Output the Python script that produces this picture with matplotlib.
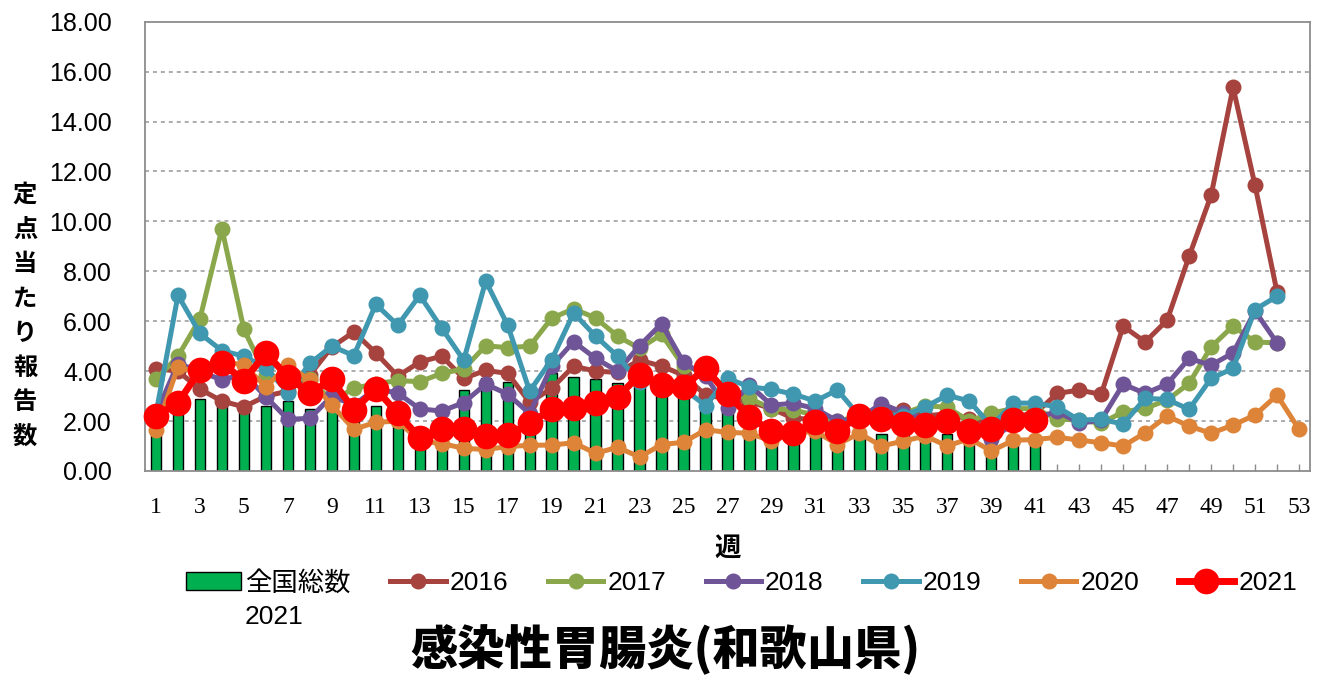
import matplotlib
matplotlib.use("Agg")
import matplotlib.pyplot as plt
import numpy as np

plt.rcParams['font.family'] = ['Liberation Sans', 'Noto Sans CJK JP', 'DejaVu Sans']

weeks = list(range(1, 54))

national_2021 = [1.5, 2.3, 2.9, 2.8, 2.5, 2.6, 2.8, 2.5, 2.6, 2.2,
                 2.6, 1.9, 1.3, 1.5, 3.25, 3.72, 3.58, 3.2, 3.92, 3.76,
                 3.68, 3.54, 3.8, 3.5, 3.3, 3.13, 2.7, 2.1, 1.6, 1.6,
                 1.8, 1.5, 1.5, 1.5, 1.6, 1.5, 1.5, 1.4, 1.3, 1.4, 1.4]

y2016 = [4.1, 4.0, 3.28, 2.8, 2.57, 3.0, 3.2, 3.85, 4.97, 5.57,
         4.73, 3.8, 4.37, 4.6, 3.71, 4.03, 3.91, 2.75, 3.31, 4.2,
         4.0, 3.95, 4.44, 4.2, 3.84, 3.04, 2.9, 2.77, 2.5, 2.11,
         2.07, 1.8, 2.0, 2.3, 2.45, 2.2, 2.3, 2.07, 1.9, 2.2,
         2.3, 3.11, 3.24, 3.07, 5.8, 5.17, 6.04, 8.6, 11.04, 15.37,
         11.44, 7.17]

y2017 = [3.67, 4.6, 6.1, 9.71, 5.67, 3.84, 3.7, 3.7, 2.8, 3.31,
         3.5, 3.62, 3.58, 3.91, 4.09, 5.02, 4.94, 5.0, 6.12, 6.5,
         6.13, 5.4, 4.91, 5.47, 4.2, 3.97, 3.3, 2.91, 2.5, 2.44,
         2.24, 2.0, 2.2, 2.1, 2.3, 2.62, 2.55, 2.0, 2.32, 2.5,
         2.5, 2.08, 2.04, 1.91, 2.37, 2.51, 2.84, 3.51, 4.97, 5.81,
         5.17, 5.13]

y2018 = [2.3, 4.3, 4.0, 3.64, 3.9, 2.97, 2.07, 2.11, 3.0, 2.64,
         3.3, 3.12, 2.49, 2.4, 2.74, 3.48, 3.08, 2.3, 4.2, 5.18,
         4.51, 4.0, 5.02, 5.9, 4.35, 3.8, 2.51, 3.44, 2.64, 2.71,
         2.5, 2.0, 2.1, 2.7, 2.34, 2.1, 2.0, 1.8, 1.27, 1.9,
         2.1, 2.4, 1.91, 2.04, 3.48, 3.11, 3.48, 4.51, 4.24, 4.73,
         6.41, 5.13]

y2019 = [2.3, 7.04, 5.51, 4.82, 4.6, 4.14, 3.14, 4.31, 5.0, 4.62,
         6.68, 5.84, 7.04, 5.72, 4.44, 7.61, 5.84, 3.2, 4.46, 6.33,
         5.4, 4.6, 3.55, 3.6, 3.3, 2.62, 3.71, 3.37, 3.27, 3.08,
         2.8, 3.25, 2.2, 2.3, 2.2, 2.57, 3.04, 2.8, 1.8, 2.72,
         2.72, 2.57, 2.04, 2.07, 1.88, 2.91, 2.87, 2.47, 3.71, 4.11,
         6.47, 7.0]

y2020 = [1.64, 4.17, 3.9, 4.4, 4.24, 3.37, 4.24, 3.64, 2.64, 1.67,
         1.95, 2.0, 1.2, 1.1, 0.91, 0.86, 0.98, 1.03, 1.04, 1.13,
         0.71, 0.95, 0.56, 1.06, 1.15, 1.65, 1.55, 1.51, 1.2, 1.5,
         1.6, 1.06, 1.51, 1.0, 1.2, 1.4, 1.0, 1.3, 0.8, 1.23,
         1.26, 1.35, 1.24, 1.13, 1.0, 1.53, 2.2, 1.8, 1.51, 1.84,
         2.24, 3.04, 1.67]

y2021 = [2.21, 2.73, 4.04, 4.33, 3.62, 4.72, 3.77, 3.11, 3.67, 2.44,
         3.29, 2.31, 1.32, 1.68, 1.7, 1.4, 1.44, 1.91, 2.48, 2.54,
         2.71, 2.97, 3.84, 3.46, 3.37, 4.11, 3.09, 2.16, 1.6, 1.52,
         1.97, 1.6, 2.2, 2.09, 1.87, 1.84, 2.02, 1.61, 1.67, 2.03, 2.03]

series = [
    ("2016", y2016, "#A6433F"),
    ("2017", y2017, "#8AA84B"),
    ("2018", y2018, "#6F5597"),
    ("2019", y2019, "#3F97B0"),
    ("2020", y2020, "#DD8439"),
]

yticks = [0, 2, 4, 6, 8, 10, 12, 14, 16, 18]
ytick_labels = ["0.00", "2.00", "4.00", "6.00", "8.00", "10.00", "12.00", "14.00", "16.00", "18.00"]
xtick_labels = [str(w) if w % 2 == 1 else "" for w in weeks]

W, H = 1328, 675
fig = plt.figure(figsize=(W / 100, H / 100), dpi=100)
ax = fig.add_axes([145 / W, 1 - 471 / H, (1310 - 145) / W, (471 - 21.7) / H])

ax.set_xlim(0.5, 53.5)
ax.set_ylim(0, 18)

for y in yticks[1:-1]:
    ax.axhline(y, color="#A6A6A6", lw=1.3, ls=(0, (2.2, 2.2)), zorder=0.5)

bars = ax.bar(weeks[:len(national_2021)], national_2021, width=0.47,
              color="#00B050", edgecolor="black", linewidth=1.0, zorder=2)

handles = [bars]
labels = ["全国総数"]
for name, vals, col in series:
    ln, = ax.plot(weeks[:len(vals)], vals, color=col, lw=3.6, marker="o",
                  markersize=11.5, markeredgewidth=0, zorder=3, clip_on=False)
    handles.append(ln)
    labels.append(name)

ln21, = ax.plot(weeks[:len(y2021)], y2021, color="#FF0000", lw=5, marker="o",
                markersize=18.5, markeredgewidth=0, zorder=4, clip_on=False)
handles.append(ln21)
labels.append("2021")

for s in ax.spines.values():
    s.set_color("#8C8C8C")
    s.set_linewidth(1.3)

ax.set_yticks(yticks)
ax.set_yticklabels(ytick_labels, fontsize=18, family="Liberation Sans")
ax.tick_params(axis="y", length=0, pad=33 * 72 / 100)

ax.set_xticks(weeks)
ax.set_xticklabels(xtick_labels, fontsize=17, family="Liberation Serif")
ax.tick_params(axis="x", direction="in", length=5, width=1.0, color="#8C8C8C",
               pad=19, top=False)

fig.legend(handles, labels, loc="center left", bbox_to_anchor=(186 / W, 1 - 583 / H),
           ncol=7, frameon=False, fontsize=19, handlelength=2.1, handletextpad=0.15,
           columnspacing=1.5, borderpad=0, borderaxespad=0)
fig.text(245 / W, 1 - 617 / H, "2021", ha="left", va="center", fontsize=19)

fig.text(728 / W, 1 - 548 / H, "週", ha="center", va="center", fontsize=19,
         fontweight="bold", family=["Noto Sans CJK JP"])

ylabel = "定点当たり報告数"
pitch = 34.5
y0 = 195
for i, ch in enumerate(ylabel):
    fig.text(25 / W, 1 - (y0 + i * pitch) / H, ch, ha="center", va="center",
             fontsize=17.5, fontweight="bold", family=["Noto Sans CJK JP"])

fig.text(665 / W, 1 - 650 / H, "感染性胃腸炎(和歌山県)", ha="center", va="center",
         fontsize=34, fontweight="heavy", family=["Noto Sans CJK JP"])

fig.savefig("out.png", dpi=100)
